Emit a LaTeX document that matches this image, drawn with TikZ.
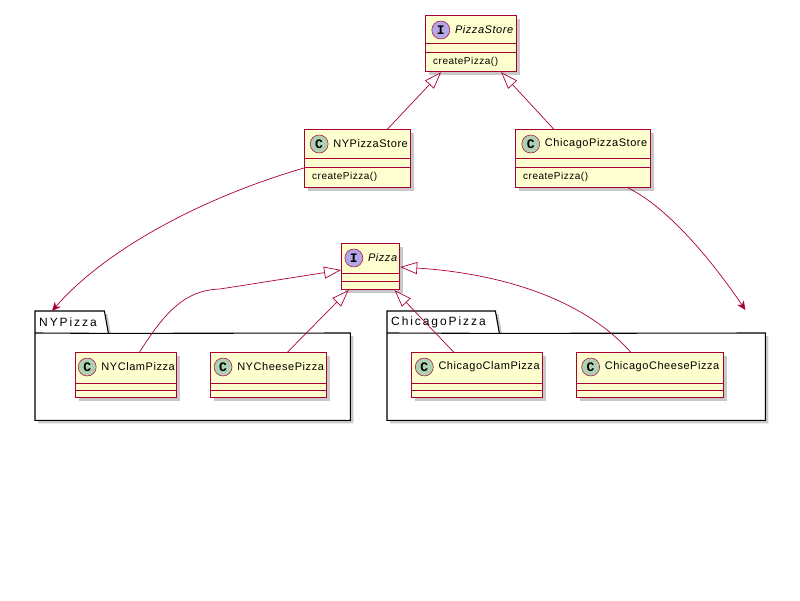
\documentclass[tikz,border=0pt]{standalone}
\usepackage{fontspec}
\setmainfont{Liberation Sans}[LetterSpace=5]
\newfontfamily\pkgfont{Liberation Sans}[LetterSpace=16]
\newfontfamily\badgefont{Liberation Mono}
\usetikzlibrary{arrows.meta}
\usetikzlibrary{shadows}

\definecolor{umlred}{HTML}{A80036}
\definecolor{umlfill}{HTML}{FEFECE}
\definecolor{cgreen}{HTML}{ADD1B2}
\definecolor{ipurple}{HTML}{B4A7E5}

\tikzset{
  shade/.style={drop shadow={shadow xshift=3pt, shadow yshift=-3pt, opacity=0.3, fill=black!70}},
  cls/.style={draw=umlred, fill=umlfill, line width=1.2pt, inner sep=0pt, anchor=north west, shade},
  sep/.style={draw=umlred, line width=0.9pt},
  cname/.style={inner sep=0pt, font=\fontsize{11}{13}\selectfont},
  iname/.style={inner sep=0pt, font=\fontsize{11}{13}\selectfont\itshape},
  meth/.style={inner sep=0pt, anchor=west, font=\fontsize{10}{12}\selectfont},
  cbadge/.style={circle, draw=umlred, line width=0.5pt, fill=cgreen, minimum size=18pt, inner sep=0pt, font=\badgefont\bfseries\fontsize{13}{13}\selectfont},
  ibadge/.style={cbadge, fill=ipurple},
  pkgcell/.style={inner sep=0pt, anchor=north west},
  pkg/.style={draw=black, fill=white, line width=1.1pt, shade},
  pkgname/.style={inner sep=0pt, anchor=west, font=\pkgfont\fontsize{12}{14}\selectfont},
  ext/.style={draw=umlred, line width=0.7pt, -{Triangle[length=17pt, width=12pt, fill=white]}},
  dep/.style={draw=umlred, line width=0.7pt, -{Stealth[length=9pt, width=8pt, inset=3pt]}},
}

\begin{document}
\begin{tikzpicture}[x=1pt, y=-1pt]
\fill[white] (0,0) rectangle (800,600);
\useasboundingbox (0,0) rectangle (800,600);

% packages
\path node[pkgcell, minimum width=73, minimum height=22] (nytab) at (35,311) {};
\path node[pkgcell, minimum width=315, minimum height=87] (nybox) at (35,333) {};
\draw[pkg] (nybox.south west) -- (nytab.north west) -- ([xshift=-4]nytab.north east) -- (nytab.south east) -- (nybox.north east) -- (nybox.south east) -- cycle;
\draw[line width=1.1pt] (nybox.north west) -- (nytab.south east);
\node[pkgname] (nylbl) at ([xshift=4]nytab.west) {NYPizza};

\path node[pkgcell, minimum width=112, minimum height=22] (chitab) at (387,311) {};
\path node[pkgcell, minimum width=378, minimum height=87] (chibox) at (387,333) {};
\draw[pkg] (chibox.south west) -- (chitab.north west) -- ([xshift=-4]chitab.north east) -- (chitab.south east) -- (chibox.north east) -- (chibox.south east) -- cycle;
\draw[line width=1.1pt] (chibox.north west) -- (chitab.south east);
\node[pkgname] (chilbl) at ([xshift=4]chitab.west) {ChicagoPizza};

% PizzaStore
\node[cls, minimum width=91, minimum height=56] (pstore) at (425,15) {};
\foreach \d in {28,37} \draw[sep] ([yshift=-\d]pstore.north west) -- ([yshift=-\d]pstore.north east);
\node[iname] (pstoretxt) at ([xshift=13, yshift=-15]pstore.north) {PizzaStore};
\node[ibadge] (pstorebadge) at ([xshift=-14]pstoretxt.west) {I};
\node[meth] (pstoremeth) at ([xshift=8, yshift=-47]pstore.north west) {createPizza()};

% NYPizzaStore
\node[cls, minimum width=106, minimum height=58] (nystore) at (304,129) {};
\foreach \d in {29,38} \draw[sep] ([yshift=-\d]nystore.north west) -- ([yshift=-\d]nystore.north east);
\node[cname] (nystoretxt) at ([xshift=13, yshift=-15]nystore.north) {NYPizzaStore};
\node[cbadge] (nystorebadge) at ([xshift=-14]nystoretxt.west) {C};
\node[meth] (nystoremeth) at ([xshift=8, yshift=-48]nystore.north west) {createPizza()};

% ChicagoPizzaStore
\node[cls, minimum width=135, minimum height=58] (chistore) at (515,129) {};
\foreach \d in {29,38} \draw[sep] ([yshift=-\d]chistore.north west) -- ([yshift=-\d]chistore.north east);
\node[cname] (chistoretxt) at ([xshift=13, yshift=-15]chistore.north) {ChicagoPizzaStore};
\node[cbadge] (chistorebadge) at ([xshift=-14]chistoretxt.west) {C};
\node[meth] (chistoremeth) at ([xshift=8, yshift=-48]chistore.north west) {createPizza()};

% Pizza
\node[cls, minimum width=58, minimum height=46] (pizza) at (341,243) {};
\foreach \d in {30,38} \draw[sep] ([yshift=-\d]pizza.north west) -- ([yshift=-\d]pizza.north east);
\node[iname] (pizzatxt) at ([xshift=12, yshift=-15]pizza.north) {Pizza};
\node[ibadge] (pizzabadge) at ([xshift=-14]pizzatxt.west) {I};

% NYClamPizza
\node[cls, minimum width=101, minimum height=45] (nyclam) at (75,352) {};
\foreach \d in {31,38} \draw[sep] ([yshift=-\d]nyclam.north west) -- ([yshift=-\d]nyclam.north east);
\node[cname] (nyclamtxt) at ([xshift=12, yshift=-15]nyclam.north) {NYClamPizza};
\node[cbadge] (nyclambadge) at ([xshift=-14]nyclamtxt.west) {C};

% NYCheesePizza
\node[cls, minimum width=116, minimum height=45] (nycheese) at (210,352) {};
\foreach \d in {31,38} \draw[sep] ([yshift=-\d]nycheese.north west) -- ([yshift=-\d]nycheese.north east);
\node[cname] (nycheesetxt) at ([xshift=12, yshift=-15]nycheese.north) {NYCheesePizza};
\node[cbadge] (nycheesebadge) at ([xshift=-14]nycheesetxt.west) {C};

% ChicagoClamPizza
\node[cls, minimum width=131, minimum height=45] (chiclam) at (411,352) {};
\foreach \d in {31,38} \draw[sep] ([yshift=-\d]chiclam.north west) -- ([yshift=-\d]chiclam.north east);
\node[cname] (chiclamtxt) at ([xshift=12, yshift=-15]chiclam.north) {ChicagoClamPizza};
\node[cbadge] (chiclambadge) at ([xshift=-14]chiclamtxt.west) {C};

% ChicagoCheesePizza
\node[cls, minimum width=147, minimum height=45] (chicheese) at (576,352) {};
\foreach \d in {31,38} \draw[sep] ([yshift=-\d]chicheese.north west) -- ([yshift=-\d]chicheese.north east);
\node[cname] (chicheesetxt) at ([xshift=12, yshift=-15]chicheese.north) {ChicagoCheesePizza};
\node[cbadge] (chicheesebadge) at ([xshift=-14]chicheesetxt.west) {C};

% connectors
\coordinate (chiend) at ([xshift=-20, yshift=23]chibox.north east);
\draw[ext] ([xshift=30]nystore.north) -- ([xshift=-30]pstore.south);
\draw[ext] ([xshift=-29.5]chistore.north) -- ([xshift=30]pstore.south);
\draw[dep] ([yshift=-39]nystore.north west) .. controls (201,198) and (105,250) .. ([xshift=17]nytab.north west);
\draw[dep] ([xshift=45.5]chistore.south) .. controls (672,210) and (717,268) .. (chiend);
\draw[ext] ([xshift=13.5]nyclam.north) .. controls (165,312) and (185,290) .. (220,289) -- ([yshift=-27]pizza.north west);
\draw[ext] ([xshift=19]nycheese.north) -- ([xshift=-22]pizza.south);
\draw[ext] ([xshift=-23.5]chiclam.north) -- ([xshift=24]pizza.south);
\draw[ext] ([xshift=-19.5]chicheese.north) .. controls (575,290) and (480,272) .. ([yshift=-24]pizza.north east);
\end{tikzpicture}
\end{document}
